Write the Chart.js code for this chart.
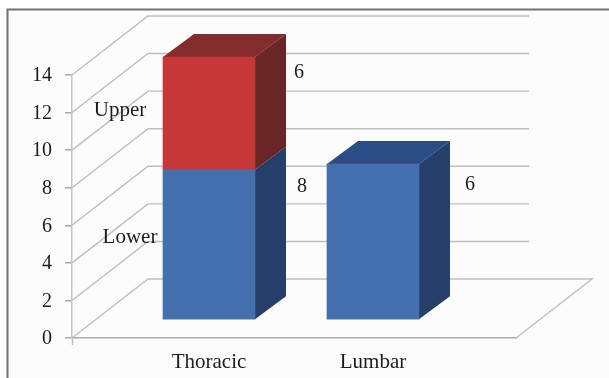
<!DOCTYPE html>
<html>
<head>
<meta charset="utf-8">
<script src="https://cdn.jsdelivr.net/npm/chart.js@4"></script>
<style>
html,body{margin:0;padding:0;background:#fff;overflow:hidden}
#wrap{width:609px;height:378px;position:relative}
canvas{display:block;filter:blur(0.45px)}
</style>
</head>
<body>
<div id="wrap"><canvas id="c" width="609" height="378"></canvas></div>
<script>
const categories = ["Thoracic", "Lumbar"];
const lowerValues = [8, 8.3];
const upperValues = [6, 0];
const seriesNames = ["Lower", "Upper"];
const lowerValueLabels = ["8", "6"];
const upperValueLabels = ["6", ""];
const yTicks = [0, 2, 4, 6, 8, 10, 12, 14];

const FONT = '"Liberation Serif", "Times New Roman", serif';
const WALL = {dx: 76, dy: 59, backRightInset: 13};
const BAR = {dx: 31, dy: 23, lift: 18};
const faces = [
  {front: "#4470ae", side: "#263f6a", top: "#2a4d88"},
  {front: "#c83737", side: "#6a2626", top: "#822c2c"}
];
const GRID = "#bdbdc4";

function poly(ctx, pts, fill) {
  ctx.beginPath();
  pts.forEach((p, i) => i ? ctx.lineTo(p[0], p[1]) : ctx.moveTo(p[0], p[1]));
  ctx.closePath();
  ctx.fillStyle = fill;
  ctx.fill();
}

const box3d = {
  id: "box3d",
  beforeDraw(chart) {
    const ctx = chart.ctx;
    ctx.save();
    ctx.fillStyle = "#ffffff";
    ctx.fillRect(0, 0, chart.width, chart.height);
    ctx.fillStyle = "#fcfcfd";
    ctx.fillRect(8, 10, chart.width, chart.height);
    ctx.strokeStyle = "#6e7372";
    ctx.lineWidth = 2;
    ctx.beginPath();
    ctx.moveTo(7.5, chart.height + 2);
    ctx.lineTo(7.5, 9.5);
    ctx.lineTo(chart.width + 2, 9.5);
    ctx.stroke();
    ctx.restore();
  },
  beforeDatasetsDraw(chart) {
    const ctx = chart.ctx, y = chart.scales.y, a = chart.chartArea;
    ctx.save();
    ctx.strokeStyle = GRID;
    ctx.lineWidth = 1.4;
    yTicks.forEach(v => {
      const p = y.getPixelForValue(v);
      const backEnd = v === 0 ? a.right + WALL.dx : a.right + WALL.backRightInset;
      ctx.beginPath();
      ctx.moveTo(a.left, p);
      ctx.lineTo(a.left + WALL.dx, p - WALL.dy);
      ctx.lineTo(backEnd, p - WALL.dy);
      if (v === 0) ctx.lineTo(a.right, p);
      ctx.stroke();
    });
    ctx.beginPath();
    ctx.moveTo(a.left + 0.5, a.bottom);
    ctx.lineTo(a.left + 0.5, a.bottom + 7);
    ctx.stroke();
    ctx.restore();
    // side and top faces sit behind the bars' front faces
    chart.data.datasets.forEach((ds, di) => {
      chart.getDatasetMeta(di).data.forEach((el, i) => {
        if (!(chart.data.datasets[di].data[i].y > 0)) return;
        const l = el.x - el.width / 2, r = el.x + el.width / 2;
        const t = el.y - BAR.lift, b = el.base - BAR.lift;
        poly(ctx, [[r, t], [r + BAR.dx, t - BAR.dy], [r + BAR.dx, b - BAR.dy], [r, b]], faces[di].side);
        const higher = chart.data.datasets.slice(di + 1).some(d => d.data[i].y > 0);
        if (!higher) {
          poly(ctx, [[l, t], [l + BAR.dx, t - BAR.dy], [r + BAR.dx, t - BAR.dy], [r, t]], faces[di].top);
        }
      });
    });
  },
  beforeDatasetDraw(chart) {
    chart.ctx.save();
    chart.ctx.translate(0, -BAR.lift);
  },
  afterDatasetDraw(chart) {
    chart.ctx.restore();
  },
  afterDatasetsDraw(chart) {
    const ctx = chart.ctx;
    ctx.save();
    ctx.fillStyle = "#1c1c1c";
    ctx.font = "21px " + FONT;
    ctx.textAlign = "center";
    ctx.textBaseline = "middle";
    const first = [chart.getDatasetMeta(0).data[0], chart.getDatasetMeta(1).data[0]];
    const lmb = chart.getDatasetMeta(0).data[1];
    const mid = el => (el.y + el.base) / 2;
    ctx.fillText(seriesNames[0], first[0].x - 79, mid(first[0]) - 25);
    ctx.fillText(seriesNames[1], first[1].x - 89, mid(first[1]) - 21);
    ctx.font = "20px " + FONT;
    ctx.fillText(upperValueLabels[0], first[1].x + 90, mid(first[1]) - 59);
    ctx.fillText(lowerValueLabels[0], first[0].x + 93, mid(first[0]) - 76);
    ctx.fillText(lowerValueLabels[1], lmb.x + 97, mid(lmb) - 75);
    ctx.restore();
  }
};

new Chart(document.getElementById("c"), {
  type: "bar",
  data: {
    datasets: [
      {label: seriesNames[0], stack: "s", clip: false, backgroundColor: faces[0].front, borderWidth: 0,
       data: lowerValues.map((v, i) => ({x: i + 1, y: v}))},
      {label: seriesNames[1], stack: "s", clip: false, backgroundColor: faces[1].front, borderWidth: 0,
       data: upperValues.map((v, i) => ({x: i + 1, y: v}))}
    ]
  },
  options: {
    responsive: false,
    animation: false,
    devicePixelRatio: 1,
    barThickness: 92,
    layout: {autoPadding: false, padding: {top: 75, right: 93, left: 0, bottom: 0}},
    plugins: {legend: {display: false}, tooltip: {enabled: false}, title: {display: false}},
    scales: {
      x: {
        type: "linear",
        offset: false,
        stacked: true,
        min: 0.1646,
        max: 2.872,
        afterBuildTicks(s) { s.ticks = categories.map((_, i) => ({value: i + 1})); },
        afterFit(s) { s.height = 40; },
        grid: {display: false, offset: false},
        border: {display: true, color: "#a9a9ae", width: 1.5},
        ticks: {
          autoSkip: false, maxRotation: 0, minRotation: 0, padding: 4, color: "#1c1c1c",
          font: {family: FONT, size: 21},
          callback: v => categories[v - 1]
        }
      },
      y: {
        stacked: true,
        min: 0,
        max: 14,
        afterBuildTicks(s) { s.ticks = yTicks.map(v => ({value: v})); },
        afterFit(s) { s.width = 72; },
        grid: {drawOnChartArea: false, drawTicks: true, tickLength: 7, color: "#a9a9ae", lineWidth: 1.5},
        border: {display: true, color: "#c4c4ca", width: 1.5},
        ticks: {padding: 13, labelOffset: 1, color: "#1c1c1c", font: {family: FONT, size: 20}}
      }
    }
  },
  plugins: [box3d]
});
</script>
</body>
</html>
